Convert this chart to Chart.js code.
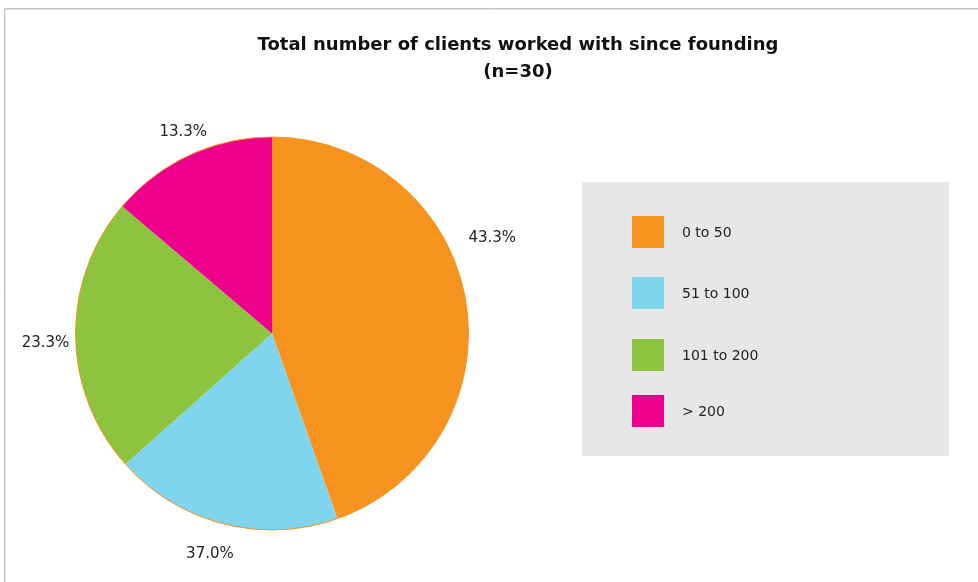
<!DOCTYPE html>
<html lang="en">
<head>
    <meta charset="UTF-8">
    <title>Total number of clients</title>
    <script src="https://cdn.jsdelivr.net/npm/chart.js@4.4.0/dist/chart.umd.min.js"></script>
    <style>
        html, body { margin: 0; padding: 0; background: #fff; }
        #wrap { width: 978px; height: 582px; }
    </style>
</head>
<body>
<div id="wrap"><canvas id="myChart" width="978" height="582"></canvas></div>
<script>
// chart data (slice sizes as drawn in the picture)
var categories = ['0 to 50', '51 to 100', '101 to 200', '> 200'];
var shares = [44.6, 18.8, 22.8, 13.8];
// labels exactly as printed on the original chart
var shareLabels = ['43.3%', '37.0%', '23.3%', '13.3%'];
var colors = ['#F6931F', '#80D5EE', '#8DC43F', '#EC008C'];
var titleLines = ['Total number of clients worked with since founding', '(n=30)'];

var FONT = '"DejaVu Sans", sans-serif';

// frame, title, labels and legend drawn on the canvas
var decor = {
    id: 'decor',
    beforeDraw: function(chart) {
        var c = chart.ctx;
        c.save();
        c.strokeStyle = '#C3C3C3';
        c.lineWidth = 1;
        c.beginPath();
        c.moveTo(4.5, 582);
        c.lineTo(4.5, 8.5);
        c.lineTo(978, 8.5);
        c.stroke();
        c.strokeStyle = '#E2E2E2';
        c.beginPath();
        c.moveTo(5.5, 582);
        c.lineTo(5.5, 9.5);
        c.lineTo(978, 9.5);
        c.stroke();
        c.restore();
    },
    afterDatasetsDraw: function(chart, args, opts) {
        var c = chart.ctx;
        var meta = chart.getDatasetMeta(0);
        var a0 = meta.data[0];
        c.save();
        // thin outline round the pie
        c.strokeStyle = colors[0];
        c.lineWidth = 1;
        c.beginPath();
        c.arc(a0.x, a0.y, a0.outerRadius, 0, Math.PI * 2);
        c.stroke();

        // percentage labels outside the slices
        c.fillStyle = '#222';
        c.font = '15px ' + FONT;
        c.textAlign = 'center';
        c.textBaseline = 'middle';
        meta.data.forEach(function(arc, i) {
            var mid = (arc.startAngle + arc.endAngle) / 2;
            var r = arc.outerRadius + 29;
            var nudge = opts.nudge[i] || [0, 0];
            c.fillText(shareLabels[i], arc.x + Math.cos(mid) * r + nudge[0], arc.y + Math.sin(mid) * r + nudge[1]);
        });

        // title
        c.fillStyle = '#111';
        c.font = 'bold 18px ' + FONT;
        c.fillText(titleLines[0], 518, 45);
        c.fillText(titleLines[1], 518, 72);

        // legend box
        c.fillStyle = '#E6E7E6';
        c.fillRect(582, 182, 367, 274);
        var rows = [232, 293, 355, 411];
        c.font = '14px ' + FONT;
        c.textAlign = 'left';
        categories.forEach(function(cat, i) {
            c.fillStyle = colors[i];
            c.fillRect(632, rows[i] - 16, 32, 32);
            c.fillStyle = '#222';
            c.fillText(cat, 682, rows[i] + 1);
        });
        c.restore();
    }
};

var ctx = document.getElementById('myChart').getContext('2d');
var myPieChart = new Chart(ctx, {
    type: 'pie',
    data: {
        labels: categories,
        datasets: [{
            data: shares,
            backgroundColor: colors,
            borderWidth: 0
        }]
    },
    options: {
        responsive: false,
        animation: false,
        layout: {
            padding: { left: 75, right: 509, top: 137, bottom: 52 }
        },
        plugins: {
            legend: { display: false },
            tooltip: { enabled: false },
            title: { display: false },
            decor: { nudge: [[-2, -57], [-6, 2], [-1, 7], [6, 3]] }
        }
    },
    plugins: [decor]
});
</script>
</body>
</html>
